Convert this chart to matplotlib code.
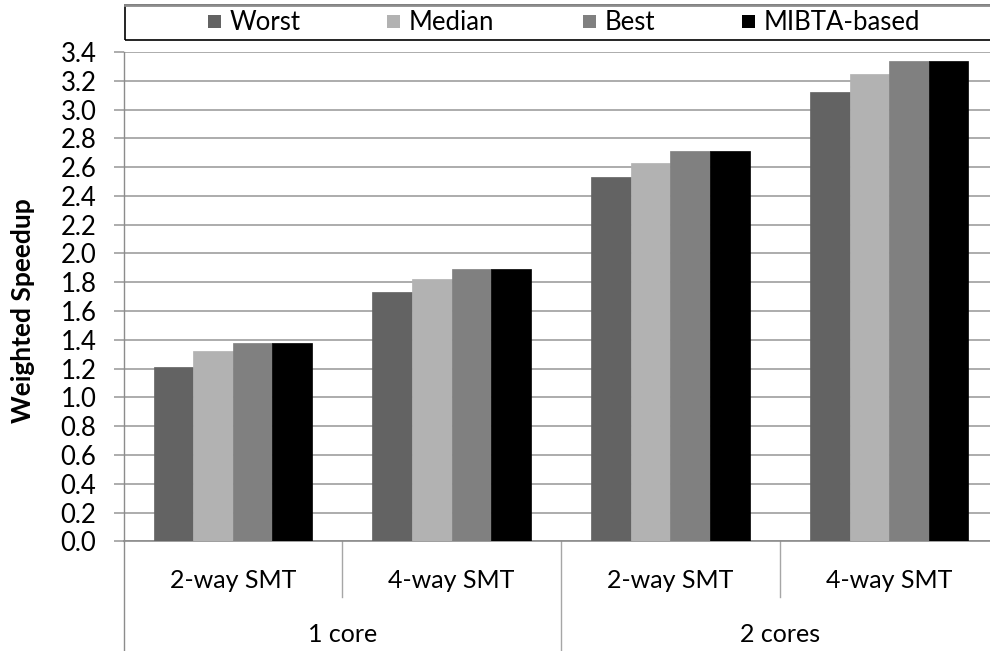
import matplotlib
matplotlib.use("Agg")
import matplotlib.pyplot as plt
from matplotlib.patches import Rectangle
from matplotlib.lines import Line2D
import numpy as np

plt.rcParams['font.family'] = ['Lato', 'DejaVu Sans']

series = ["Worst", "Median", "Best", "MIBTA-based"]
colors = ["#636363", "#b2b2b2", "#808080", "#000000"]
inner_labels = ["2-way SMT", "4-way SMT", "2-way SMT", "4-way SMT"]
outer_labels = ["1 core", "2 cores"]
worst = [1.21, 1.73, 2.53, 3.12]
median = [1.32, 1.82, 2.63, 3.245]
best = [1.38, 1.895, 2.715, 3.335]
mibta = [1.38, 1.895, 2.715, 3.335]
values = [worst, median, best, mibta]
yticks = np.round(np.arange(0, 3.41, 0.2), 1)

W, H = 990, 651
fig = plt.figure(figsize=(W / 100, H / 100), dpi=100)
ax_l, ax_r, ax_t, ax_b = 123.5, 998.6, 52.0, 541.3
ax = fig.add_axes([ax_l / W, (H - ax_b) / H, (ax_r - ax_l) / W, (ax_b - ax_t) / H])

x = np.arange(len(inner_labels))
bw = 0.181
for i, (vals, c) in enumerate(zip(values, colors)):
    ax.bar(x + (i - 1.5) * bw, vals, width=bw, color=c, edgecolor=c, linewidth=0.5, zorder=3)

ax.set_xlim(-0.5, 3.5)
ax.set_ylim(0, 3.4)
ax.set_yticks(yticks)
ax.set_yticklabels([f"{v:.1f}" for v in yticks], fontsize=18.5)
ax.yaxis.grid(True, color="#a6a6a6", linewidth=1.3, zorder=0)
ax.tick_params(axis="y", length=7, width=1.3, color="#a6a6a6", pad=12.5)
ax.tick_params(axis="x", length=0, labelbottom=False)
for s in ["top", "right"]:
    ax.spines[s].set_visible(False)
ax.spines["left"].set_color("#8c8c8c")
ax.spines["bottom"].set_color("#8c8c8c")
ax.spines["left"].set_linewidth(1.0)
ax.spines["bottom"].set_linewidth(1.2)
ax.spines["left"].set_zorder(4)

fig.text(23 / W, (H - 311) / H, "Weighted Speedup", rotation=90, ha="center", va="center",
         fontsize=19, fontweight="bold")

def ay(py):
    return (ax_b - py) / (ax_b - ax_t)

trans = ax.get_xaxis_transform()
# category dividers
ax.add_line(Line2D([-0.5, -0.5], [0, ay(651)], transform=trans, color="#8c8c8c", lw=1.0, clip_on=False))
for xd in [0.5, 2.5]:
    ax.add_line(Line2D([xd, xd], [0, ay(597)], transform=trans, color="#a6a6a6", lw=1.0, clip_on=False))
ax.add_line(Line2D([1.5, 1.5], [0, ay(651)], transform=trans, color="#a6a6a6", lw=1.0, clip_on=False))

for xi, lab in zip(x, inner_labels):
    ax.text(xi, ay(581), lab, transform=trans, ha="center", va="center", fontsize=18)
for k, lab in enumerate(outer_labels):
    ax.text(2 * k + 0.5, ay(634), lab, transform=trans, ha="center", va="center", fontsize=18)

# legend box
fig.patches.append(Rectangle((125 / W, (H - 39.5) / H), (1000 - 125) / W, (39.5 - 5) / H,
                             transform=fig.transFigure, fill=False, edgecolor="black", lw=1.2))
fig.lines.append(Line2D([125 / W, 1.0], [(H - 4.5) / H] * 2, transform=fig.transFigure, color="#8c8c8c", lw=2))
sq_x = [208, 387, 583, 742]
sq = 13
for sx, lab, c in zip(sq_x, series, colors):
    fig.patches.append(Rectangle((sx / W, (H - 21 - sq / 2) / H), sq / W, sq / H,
                                 transform=fig.transFigure, facecolor=c, edgecolor="none"))
    fig.text((sx + sq + 9) / W, (H - 22) / H, lab, ha="left", va="center", fontsize=18.5)

fig.savefig("out.png", dpi=100)
